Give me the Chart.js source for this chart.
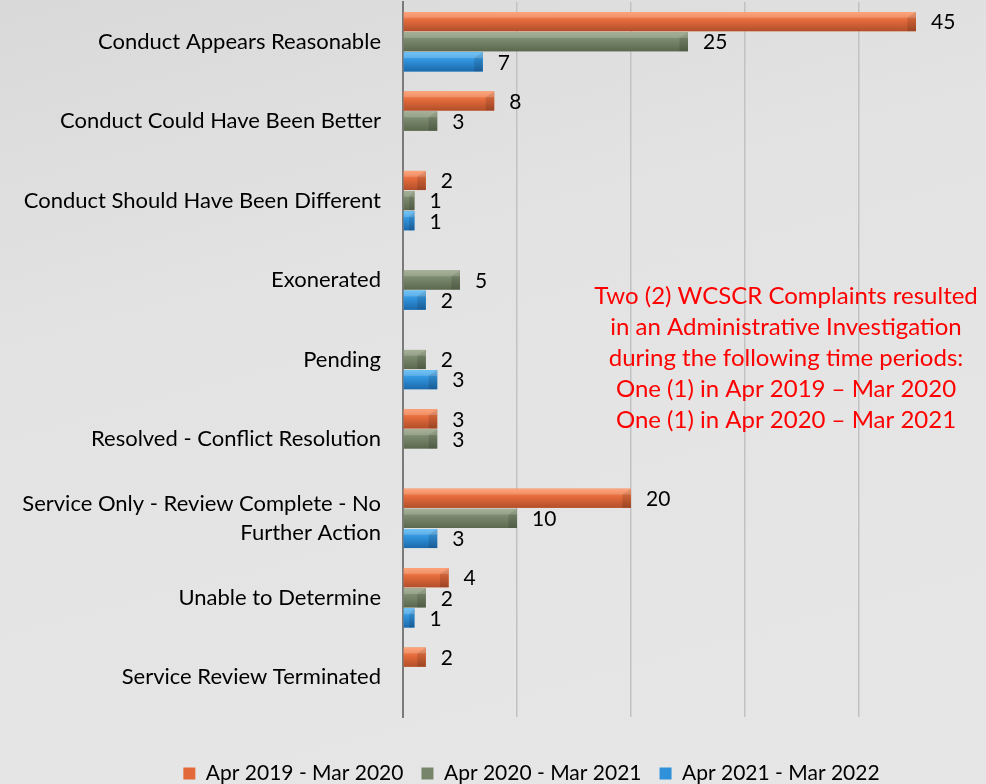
<!DOCTYPE html>
<html>
<head>
<meta charset="utf-8">
<script src="https://cdn.jsdelivr.net/npm/chart.js@4.4.0/dist/chart.umd.min.js"></script>
<style>
  html, body { margin: 0; padding: 0; }
  body {
    width: 986px; height: 784px; overflow: hidden;
    background: linear-gradient(165deg, #d9d9d9 0%, #e3e3e3 35%, #e6e6e6 100%);
  }
  #wrap { position: relative; width: 986px; height: 784px; }
  canvas { display: block; }
</style>
</head>
<body>
<div id="wrap"><canvas id="barChart" width="986" height="784"></canvas></div>
<script>
// categories and values
var categories = [
  "Conduct Appears Reasonable",
  "Conduct Could Have Been Better",
  "Conduct Should Have Been Different",
  "Exonerated",
  "Pending",
  "Resolved - Conflict Resolution",
  ["Service Only - Review Complete - No", "Further Action"],
  "Unable to Determine",
  "Service Review Terminated"
];
var seriesNames = ["Apr 2019 - Mar 2020", "Apr 2020 - Mar 2021", "Apr 2021 - Mar 2022"];
var apr2019 = [45, 8, 2, null, null, 3, 20, 4, 2];
var apr2020 = [25, 3, 1, 5, 2, 3, 10, 2, null];
var apr2021 = [7, null, 1, 2, 3, null, 3, 1, null];
var xTicks = [0, 10, 20, 30, 40, 50];
var noteLines = [
  "Two (2) WCSCR Complaints resulted",
  "in an Administrative Investigation",
  "during the following time periods:",
  "One (1) in Apr 2019 \u2013 Mar 2020",
  "One (1) in Apr 2020 \u2013 Mar 2021"
];

// light / mid / dark shades for the bevelled bars
var shades = [
  ["#ff915e", "#e2693a", "#b14f2a"],
  ["#929f80", "#77866a", "#5b684e"],
  ["#52b6f4", "#2f91da", "#1d69ab"]
];

var FONT = "Lato, 'Open Sans', sans-serif";

// bevel look + value labels
var barDecor = {
  id: "barDecor",
  afterLayout: function (chart) {
    // legend sits a little right of the canvas centre
    chart.legend.left += 45;
    chart.legend.right += 45;
  },
  afterDatasetsDraw: function (chart) {
    var ctx = chart.ctx;
    ctx.save();
    chart.data.datasets.forEach(function (ds, di) {
      var meta = chart.getDatasetMeta(di);
      meta.data.forEach(function (el, i) {
        var v = ds.data[i];
        if (v === null || v === undefined) return;
        var p = el.getProps(["x", "y", "base", "height"], true);
        var top = p.y - p.height / 2, h = p.height;
        var left = p.base, w = p.x - p.base;
        var g = ctx.createLinearGradient(0, top, 0, top + h);
        g.addColorStop(0, shades[di][0]);
        g.addColorStop(0.45, shades[di][1]);
        g.addColorStop(1, shades[di][2]);
        ctx.fillStyle = g;
        ctx.fillRect(left, top, w, h);
        // end cap chevron
        var c = Math.min(h * 0.45, w / 2);
        ctx.fillStyle = "rgba(0,0,0,0.12)";
        ctx.beginPath();
        ctx.moveTo(left + w, top);
        ctx.lineTo(left + w - c, top + h * 0.3);
        ctx.lineTo(left + w - c, top + h);
        ctx.lineTo(left + w, top + h);
        ctx.closePath();
        ctx.fill();
        ctx.fillStyle = "rgba(255,255,255,0.18)";
        ctx.fillRect(left, top, w, h * 0.3);
        // value label
        ctx.fillStyle = "#000";
        ctx.font = "21px " + FONT;
        ctx.textAlign = "left";
        ctx.textBaseline = "middle";
        ctx.fillText(String(v), p.x + 15, p.y + 1);
      });
    });
    ctx.restore();
  },
  afterDraw: function (chart) {
    var ctx = chart.ctx;
    ctx.save();
    ctx.fillStyle = "#ff0000";
    ctx.font = "24px " + FONT;
    ctx.textAlign = "center";
    ctx.textBaseline = "middle";
    noteLines.forEach(function (t, i) {
      ctx.fillText(t, 786, 296 + i * 31);
    });
    ctx.restore();
  }
};

var ctxB = document.getElementById("barChart").getContext("2d");
var chart = new Chart(ctxB, {
  type: "bar",
  data: {
    labels: categories,
    datasets: [
      { label: seriesNames[0], data: apr2019, backgroundColor: shades[0][1] },
      { label: seriesNames[1], data: apr2020, backgroundColor: shades[1][1] },
      { label: seriesNames[2], data: apr2021, backgroundColor: shades[2][1] }
    ]
  },
  plugins: [barDecor],
  options: {
    indexAxis: "y",
    responsive: false,
    animation: false,
    maintainAspectRatio: false,
    categoryPercentage: 0.76,
    barPercentage: 0.95,
    layout: { padding: { top: 2, right: 13, left: 0, bottom: -10 } },
    scales: {
      x: {
        min: 0,
        max: 50,
        afterBuildTicks: function (scale) {
          scale.ticks = xTicks.map(function (v) { return { value: v }; });
        },
        ticks: { display: false },
        border: { display: false },
        grid: {
          drawTicks: false,
          lineWidth: 1.5,
          color: function (c) {
            return c.tick && c.tick.value === 50 ? "rgba(0,0,0,0)" : "#c2c2c2";
          }
        },
        afterFit: function (scale) { scale.height = 28; }
      },
      y: {
        grid: { display: false, drawTicks: false },
        border: { display: true, color: "#7a7a7a", width: 2 },
        ticks: {
          color: "#000",
          padding: 22,
          font: { family: FONT, size: 22, lineHeight: 1.36 }
        },
        afterFit: function (scale) {
          scale.width = 403;
          scale.paddingTop = 0;
          scale.paddingBottom = 0;
        }
      }
    },
    plugins: {
      legend: {
        position: "bottom",
        labels: {
          color: "#000",
          boxWidth: 12,
          boxHeight: 12,
          padding: 18,
          font: { family: FONT, size: 21 }
        }
      },
      tooltip: { enabled: false }
    }
  }
});
</script>
</body>
</html>
